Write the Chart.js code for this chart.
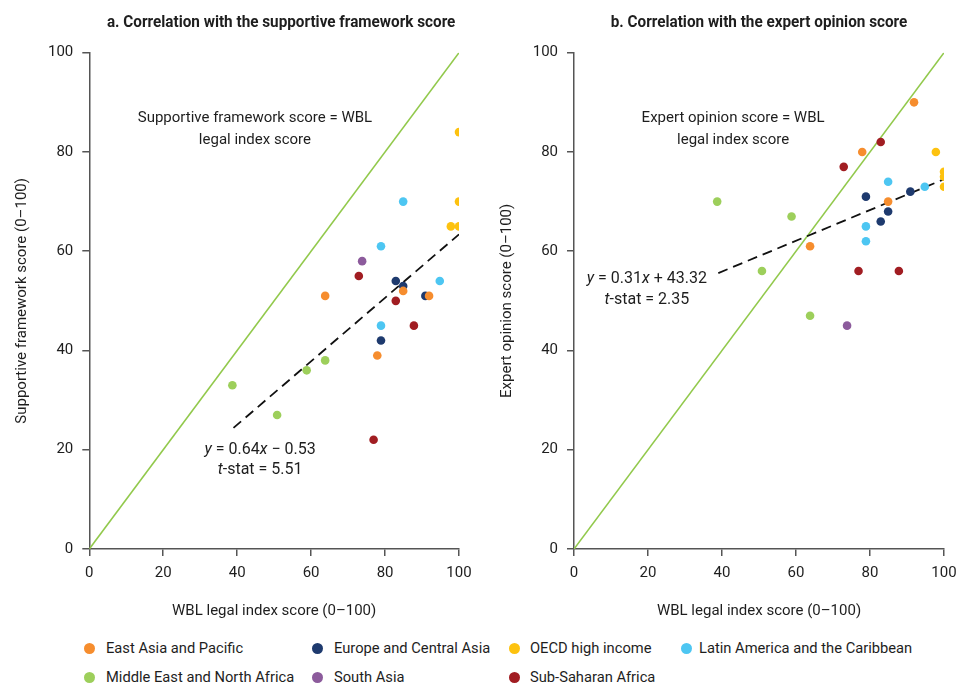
<!DOCTYPE html>
<html><head><meta charset="utf-8">
<script src="https://cdn.jsdelivr.net/npm/chart.js@4.4.1/dist/chart.umd.min.js"></script>
<style>
html,body{margin:0;padding:0;background:#fff;}
#wrap{position:relative;width:957px;height:683px;overflow:hidden;}
#ca{position:absolute;left:0;top:0;}
#cb{position:absolute;left:478px;top:0;}
.mk{position:absolute;width:11px;height:11px;border-radius:50%;}
.lt{position:absolute;font-size:15px;color:#1e1e1e;white-space:nowrap;line-height:20px;font-family:Roboto,sans-serif;transform:scaleX(0.98);transform-origin:left center;}
</style></head>
<body>
<div id="wrap">
<canvas id="ca" width="478" height="630"></canvas>
<canvas id="cb" width="479" height="630"></canvas>
<div id="legend"></div>
</div>
<script>
const FONT = "Roboto, 'Liberation Sans', sans-serif";

// ---- data ----
const regions = ['East Asia and Pacific','Europe and Central Asia','OECD high income','Latin America and the Caribbean','Middle East and North Africa','South Asia','Sub-Saharan Africa'];
const regionColors = ['#F68D2E','#1E3A6E','#FDC20F','#4DC6F2','#9DCF5B','#8C5B9C','#A11D22'];

// WBL legal index score of each economy, by region
const wblEAP  = [63.8, 77.9, 84.9, 91.9];
const wblECA  = [78.9, 82.9, 84.9, 90.9];
const wblOECD = [97.8, 100, 100, 100];
const wblLAC  = [78.9, 78.9, 84.9, 94.8];
const wblMENA = [38.7, 50.8, 58.8, 63.8];
const wblSA   = [73.8];
const wblSSA  = [72.9, 76.9, 82.9, 87.8];

// Panel a: supportive framework score
const supEAP  = [51, 39, 52, 51];
const supECA  = [42, 54, 53, 51];
const supOECD = [65, 84, 70, 65];
const supLAC  = [61, 45, 70, 54];
const supMENA = [33, 27, 36, 38];
const supSA   = [58];
const supSSA  = [55, 22, 50, 45];

// Panel b: expert opinion score
const expEAP  = [61, 80, 70, 90];
const expECA  = [71, 66, 68, 72];
const expOECD = [80, 76, 75, 73];
const expLAC  = [65, 62, 74, 73];
const expMENA = [70, 56, 67, 47];
const expSA   = [45];
const expSSA  = [77, 56, 82, 56];

const identityX = [0, 100];
const identityY = [0, 100];
const trendAX = [39, 100];
const trendAY = [24.4, 63.4];
const trendBX = [39, 100];
const trendBY = [55.6, 74.5];

const xTicks = [0, 20, 40, 60, 80, 100];
const yTicks = [0, 20, 40, 60, 80, 100];

const wblAll = [wblEAP, wblECA, wblOECD, wblLAC, wblMENA, wblSA, wblSSA];
const supAll = [supEAP, supECA, supOECD, supLAC, supMENA, supSA, supSSA];
const expAll = [expEAP, expECA, expOECD, expLAC, expMENA, expSA, expSSA];

const pts = (xs, ys) => xs.map((x, i) => ({x, y: ys[i]}));

Chart.defaults.font.family = FONT;
Chart.defaults.font.size = 15;
Chart.defaults.color = '#1e1e1e';

function drawRuns(ctx, runs, cx, cy, size) {
  const fonts = runs.map(r => (r[1] ? 'italic ' : '') + size + 'px ' + FONT);
  let widths = runs.map((r, i) => { ctx.font = fonts[i]; return ctx.measureText(r[0]).width; });
  const total = widths.reduce((a, b) => a + b, 0);
  let x = cx - total / 2;
  ctx.textBaseline = 'middle';
  ctx.textAlign = 'left';
  ctx.fillStyle = '#1e1e1e';
  runs.forEach((r, i) => { ctx.font = fonts[i]; ctx.fillText(r[0], x, cy); x += widths[i]; });
}

const annotPlugin = {
  id: 'annot',
  afterDatasetsDraw(chart, args, opts) {
    const {ctx, chartArea, scales: {x, y}} = chart;
    ctx.save();
    (opts.items || []).forEach(a => {
      drawRuns(ctx, a.runs, x.getPixelForValue(a.x), y.getPixelForValue(a.y), a.size);
    });
    ctx.restore();
    ctx.save();
    ctx.translate((chartArea.left + chartArea.right) / 2 + o2(opts.titleShift), 23);
    ctx.scale(0.955, 1);
    ctx.font = 'bold 16px ' + FONT;
    ctx.textAlign = 'center';
    ctx.textBaseline = 'middle';
    ctx.fillStyle = '#1e1e1e';
    ctx.fillText(opts.title, 0, 0);
    ctx.restore();
  }
};
function o2(v) { return v || 0; }

function makeChart(id, yAll, o) {
  const datasets = regions.map((r, i) => ({
    label: r, data: pts(wblAll[i], yAll[i]),
    backgroundColor: regionColors[i], borderColor: regionColors[i],
    pointRadius: 4.3, pointHoverRadius: 4.3, pointBorderWidth: 0, order: 0
  }));
  datasets.push({label: 'identity', data: pts(identityX, identityY), showLine: true,
    borderColor: '#92C94C', borderWidth: 1.6, pointRadius: 0, order: 3});
  datasets.push({label: 'trend', data: pts(o.trendX, o.trendY), showLine: true,
    borderColor: '#111', borderWidth: 1.8, borderDash: [10, 6], pointRadius: 0, order: 2});

  const axisCommon = {
    min: 0, max: 100,
    grid: {drawOnChartArea: false, drawTicks: true, tickLength: 7, color: '#555', lineWidth: 1.5},
    border: {display: true, color: '#555', width: 1.5},
  };
  return new Chart(document.getElementById(id), {
    type: 'scatter',
    data: {datasets},
    options: {
      responsive: false, animation: false, devicePixelRatio: 1,
      layout: {padding: {top: 52.7, right: o.padRight, bottom: 0, left: 0}},
      plugins: {legend: {display: false}, tooltip: {enabled: false}, annot: {items: o.items, title: o.title, titleShift: o.titleShift}},
      scales: {
        x: Object.assign({}, axisCommon, {
          type: 'linear',
          afterFit: s => { s.height = 81; s.paddingLeft = 0; s.paddingRight = 0; },
          afterBuildTicks: s => { s.ticks = xTicks.map(v => ({value: v})); },
          ticks: {color: '#1e1e1e', padding: 8, maxRotation: 0},
          title: {display: true, text: 'WBL legal index score (0–100)', color: '#1e1e1e', padding: {top: 0, bottom: 10}}
        }),
        y: Object.assign({}, axisCommon, {
          afterFit: s => { s.width = o.yWidth; s.paddingTop = 0; s.paddingBottom = 0; },
          afterBuildTicks: s => { s.ticks = yTicks.map(v => ({value: v})); },
          ticks: {color: '#1e1e1e', padding: 9},
          title: {display: true, text: o.yTitle, color: '#1e1e1e', padding: {top: o.yTitlePad, bottom: 0}}
        })
      }
    },
    plugins: [annotPlugin]
  });
}

makeChart('ca', supAll, {
  title: 'a. Correlation with the supportive framework score',
  yTitle: 'Supportive framework score (0–100)',
  yWidth: 89.3, yTitlePad: 13, padRight: 19, titleShift: 7,
  trendX: trendAX, trendY: trendAY,
  items: [
    {x: 44.8, y: 86.8, size: 15, runs: [['Supportive framework score = WBL', false]]},
    {x: 44.8, y: 82.4, size: 15, runs: [['legal index score', false]]},
    {x: 46.2, y: 19.9, size: 16, runs: [['y', true], [' = 0.64', false], ['x', true], [' − 0.53', false]]},
    {x: 46.2, y: 15.9, size: 16, runs: [['t', true], ['-stat = 5.51', false]]}
  ]
});
makeChart('cb', expAll, {
  title: 'b. Correlation with the expert opinion score',
  yTitle: 'Expert opinion score (0–100)',
  yWidth: 96, yTitlePad: 20, padRight: 13, titleShift: 0,
  trendX: trendBX, trendY: trendBY,
  items: [
    {x: 43.0, y: 86.8, size: 15, runs: [['Expert opinion score = WBL', false]]},
    {x: 43.0, y: 82.4, size: 15, runs: [['legal index score', false]]},
    {x: 19.7, y: 54.4, size: 16, runs: [['y', true], [' = 0.31', false], ['x', true], [' + 43.32', false]]},
    {x: 19.7, y: 50.2, size: 16, runs: [['t', true], ['-stat = 2.35', false]]}
  ]
});

// HTML legend
const legMarkerX = [89, 317, 514, 686];
const legTextX = [106, 334, 530, 699];
const legRowY = [648, 677];
const leg = document.getElementById('legend');
regions.forEach((r, i) => {
  const row = i < 4 ? 0 : 1;
  const colIdx = i < 4 ? i : (i === 6 ? 2 : i - 4);
  const m = document.createElement('div');
  m.className = 'mk';
  m.style.background = regionColors[i];
  m.style.left = (legMarkerX[colIdx] - 5.5) + 'px';
  m.style.top = (legRowY[row] - 5.5) + 'px';
  leg.appendChild(m);
  const t = document.createElement('div');
  t.className = 'lt';
  t.textContent = r;
  t.style.left = legTextX[colIdx] + 'px';
  t.style.top = (legRowY[row] - 10) + 'px';
  leg.appendChild(t);
});
</script>
</body></html>
